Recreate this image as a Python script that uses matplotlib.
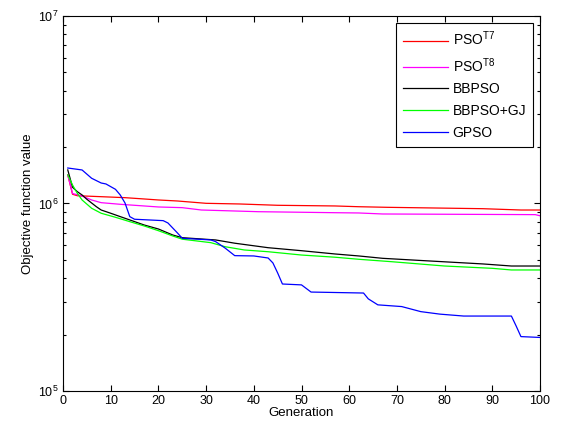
#!/usr/bin/env python3
# Convergence curves of the PSO variants (log-scale objective value vs generation)

import matplotlib
matplotlib.use('Agg')
import matplotlib.pyplot as plt
from matplotlib.ticker import LogLocator, NullFormatter

plt.rcParams['font.family'] = ['Liberation Sans', 'DejaVu Sans']
plt.rcParams['mathtext.fontset'] = 'custom'
plt.rcParams['mathtext.rm'] = 'Liberation Sans'
plt.rcParams['mathtext.it'] = 'Liberation Sans'

# PSO^T7 (red)
gen_t7 = [1, 2, 3, 8, 13, 17, 20, 24, 30, 37, 45, 57, 62, 68, 88, 96, 100]
val_t7 = [1.42e6, 1.12e6, 1.10e6, 1.087e6, 1.074e6, 1.057e6, 1.044e6, 1.031e6,
          1.002e6, 9.94e5, 9.78e5, 9.70e5, 9.61e5, 9.54e5, 9.38e5, 9.23e5, 9.23e5]

# PSO^T8 (magenta)
gen_t8 = [1, 2, 4, 6, 8, 12, 17, 20, 25, 29, 41, 57, 62, 67, 99, 100]
val_t8 = [1.42e6, 1.13e6, 1.096e6, 1.044e6, 1.010e6, 9.90e5, 9.70e5, 9.58e5,
          9.50e5, 9.23e5, 9.04e5, 8.93e5, 8.90e5, 8.79e5, 8.72e5, 8.60e5]

# BBPSO (black)
gen_bb = [1, 2, 3, 4, 5, 7, 8, 10, 12, 14, 17, 20, 23, 25, 32, 36, 43, 50, 57,
          62, 67, 76, 88, 94, 100]
val_bb = [1.51e6, 1.22e6, 1.156e6, 1.11e6, 1.053e6, 9.61e5, 9.23e5, 8.87e5,
          8.51e5, 8.17e5, 7.68e5, 7.31e5, 6.79e5, 6.57e5, 6.39e5, 6.14e5, 5.81e5,
          5.60e5, 5.38e5, 5.25e5, 5.10e5, 4.95e5, 4.76e5, 4.64e5, 4.64e5]

# BBPSO+GJ (green)
gen_gj = [1, 2, 3, 4, 6, 8, 11, 14, 17, 20, 23, 25, 31, 34, 38, 43, 50, 57, 62,
          69, 80, 90, 94, 100]
val_gj = [1.42e6, 1.255e6, 1.133e6, 1.044e6, 9.43e5, 8.87e5, 8.44e5, 8.00e5,
          7.59e5, 7.16e5, 6.71e5, 6.45e5, 6.18e5, 5.88e5, 5.65e5, 5.53e5, 5.31e5,
          5.17e5, 5.04e5, 4.89e5, 4.64e5, 4.51e5, 4.42e5, 4.42e5]

# GPSO (blue)
gen_gp = [1, 4, 6, 8, 9, 11, 12, 13, 14, 15, 21, 22, 24, 25, 31, 32, 34, 36, 40,
          43, 44, 45, 46, 50, 52, 63, 64, 66, 71, 75, 79, 84, 94, 95, 96, 100]
val_gp = [1.546e6, 1.509e6, 1.363e6, 1.286e6, 1.271e6, 1.19e6, 1.11e6, 1.006e6,
          8.51e5, 8.24e5, 8.10e5, 7.87e5, 6.96e5, 6.52e5, 6.39e5, 6.26e5, 5.78e5,
          5.27e5, 5.25e5, 5.12e5, 4.82e5, 4.26e5, 3.72e5, 3.68e5, 3.37e5, 3.33e5,
          3.10e5, 2.88e5, 2.82e5, 2.65e5, 2.57e5, 2.51e5, 2.51e5, 2.22e5, 1.95e5,
          1.93e5]

fig = plt.figure(figsize=(5.61, 4.34), dpi=100)
ax = fig.add_axes([0.1123, 0.0991, 0.8503, 0.8641])

lw = 0.9
ax.semilogy(gen_t7, val_t7, color=(1, 0, 0), lw=lw, label='PSO$^{T7}$')
ax.semilogy(gen_t8, val_t8, color=(1, 0, 1), lw=lw, label='PSO$^{T8}$')
ax.semilogy(gen_bb, val_bb, color='k', lw=lw, label='BBPSO')
ax.semilogy(gen_gj, val_gj, color=(0, 1, 0), lw=lw, label='BBPSO+GJ')
ax.semilogy(gen_gp, val_gp, color=(0, 0, 1), lw=lw, label='GPSO')

ax.set_xlim(0, 100)
ax.set_ylim(1e5, 1e7)
ax.set_xticks(range(0, 101, 10))
ax.yaxis.set_major_locator(LogLocator(base=10, numticks=5))
ax.yaxis.set_minor_locator(LogLocator(base=10, subs=range(2, 10), numticks=20))
ax.yaxis.set_minor_formatter(NullFormatter())
ax.tick_params(which='both', direction='in', top=True, right=True,
               labelsize=9, width=0.8, pad=3)
ax.tick_params(which='major', length=4)
ax.tick_params(which='minor', length=2.5)
for s in ax.spines.values():
    s.set_linewidth(0.8)

ax.set_xlabel('Generation', fontsize=9.5, labelpad=0)
ax.set_ylabel('Objective function value', fontsize=9.5, labelpad=3)

leg = ax.legend(loc='upper right', fontsize=10, handlelength=3.2,
                handletextpad=0.35, borderpad=0.5, labelspacing=0.55,
                fancybox=False, framealpha=1, borderaxespad=0.5)
leg.get_frame().set_edgecolor('k')
leg.get_frame().set_linewidth(0.8)

fig.savefig('out.png', dpi=100)
